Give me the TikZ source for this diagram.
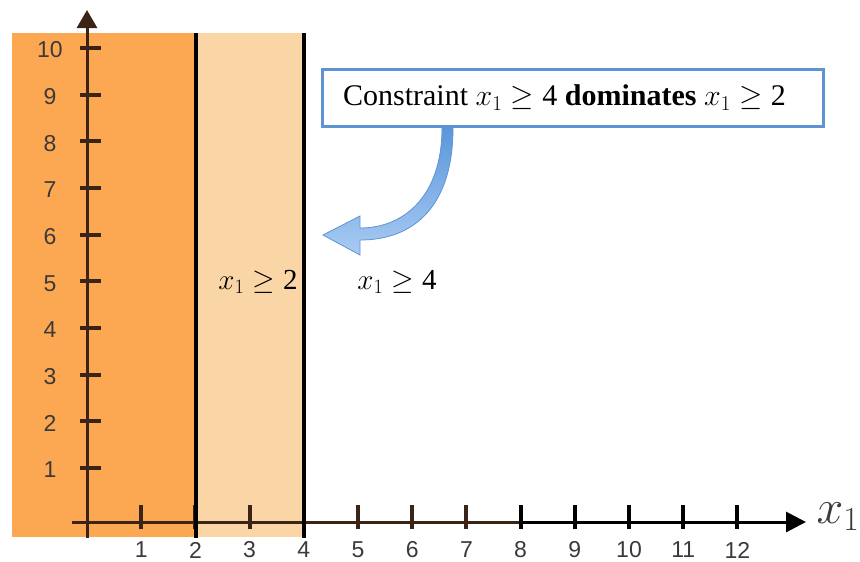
\RequirePackage{fix-cm}
\documentclass[tikz,border=0pt]{standalone}
\usepackage{fontspec}
\setmainfont{Liberation Serif}
\newfontfamily\axisfont{Liberation Sans}
\usetikzlibrary{arrows.meta}
\definecolor{orangeA}{HTML}{FCA853}
\definecolor{orangeB}{HTML}{FAD6A6}
\definecolor{axbrown}{HTML}{3B2415}
\definecolor{lblgray}{HTML}{3C3A38}
\definecolor{boxblue}{HTML}{5E94D4}
\definecolor{arrowtop}{HTML}{5B97DA}
\definecolor{arrowbot}{HTML}{A9CBF3}
\newcommand{\xge}[1]{$x_{1}\geq{}$#1}
\begin{document}
\begin{tikzpicture}[x=1pt,y=-1pt,
  axline/.style={line width=3pt},
  tickmark/.style={line width=4pt},
  ylbl/.style={font=\axisfont\fontsize{23}{23}\selectfont, text=lblgray},
  xlbl/.style={font=\axisfont\fontsize{23}{23}\selectfont, text=lblgray},
  bound/.style={line width=4pt, black},
  mathlbl/.style={font=\fontsize{29}{29}\selectfont},
  callout/.style={draw=boxblue, line width=3pt, fill=white, minimum width=501pt, minimum height=57pt, inner sep=0pt, font=\fontsize{30}{30}\selectfont}]
\useasboundingbox (0,0) rectangle (860,562);
% regions
\fill[orangeA] (12,33) rectangle (196,537);
\fill[orangeB] (196,33) rectangle (304,537);
% y axis
\draw[axline, axbrown, -{Triangle[length=18pt,width=20pt]}] (87,538) -- (87,10);
\foreach \k in {1,...,10}{
  \pgfmathsetmacro{\yy}{514.7-46.67*\k}
  \draw[tickmark, axbrown] (80,\yy) -- (101,\yy);
  \node[ylbl] (yl\k) at (50,\yy+2) {\k};
}
% x axis
\draw[axline, axbrown] (72,522) -- (519,522);
\draw[axline, black, -{Triangle[length=20pt,width=20pt]}] (519,522) -- (806,522);
\foreach \k in {1,...,12}{
  \pgfmathsetmacro{\xx}{87+54.2*\k}
  \ifnum\k<8
    \draw[tickmark, axbrown] (\xx,505) -- (\xx,529);
  \else
    \draw[tickmark, black] (\xx,505) -- (\xx,529);
  \fi
  \node[xlbl] (xl\k) at (\xx,550) {\k};
}
\node[text=lblgray, font=\fontsize{48}{48}\selectfont] (xaxlbl) at (838,517) {$x_1$};
% boundary lines
\draw[bound] (196,33) -- (196,538);
\draw[bound] (304,33) -- (304,538);
% labels
\node[mathlbl] (c2) at (258,282) {\xge{2}};
\node[mathlbl] (c4) at (397,282) {\xge{4}};
% callout
\node[callout] (box) at (572.5,97.5) {Constraint \xge{4} \textbf{dominates} \xge{2}\hspace*{16pt}};
% curved arrow
\shade[top color=arrowtop, bottom color=arrowbot, draw=boxblue, line width=0.8pt]
  (442,128) -- (453,128) .. controls (453,205) and (415,240) .. (360,240)
  -- (360,255) -- (323,235) -- (360,216) -- (360,228)
  .. controls (405,228) and (442,195) .. (442,128) -- cycle;
\end{tikzpicture}
\end{document}
